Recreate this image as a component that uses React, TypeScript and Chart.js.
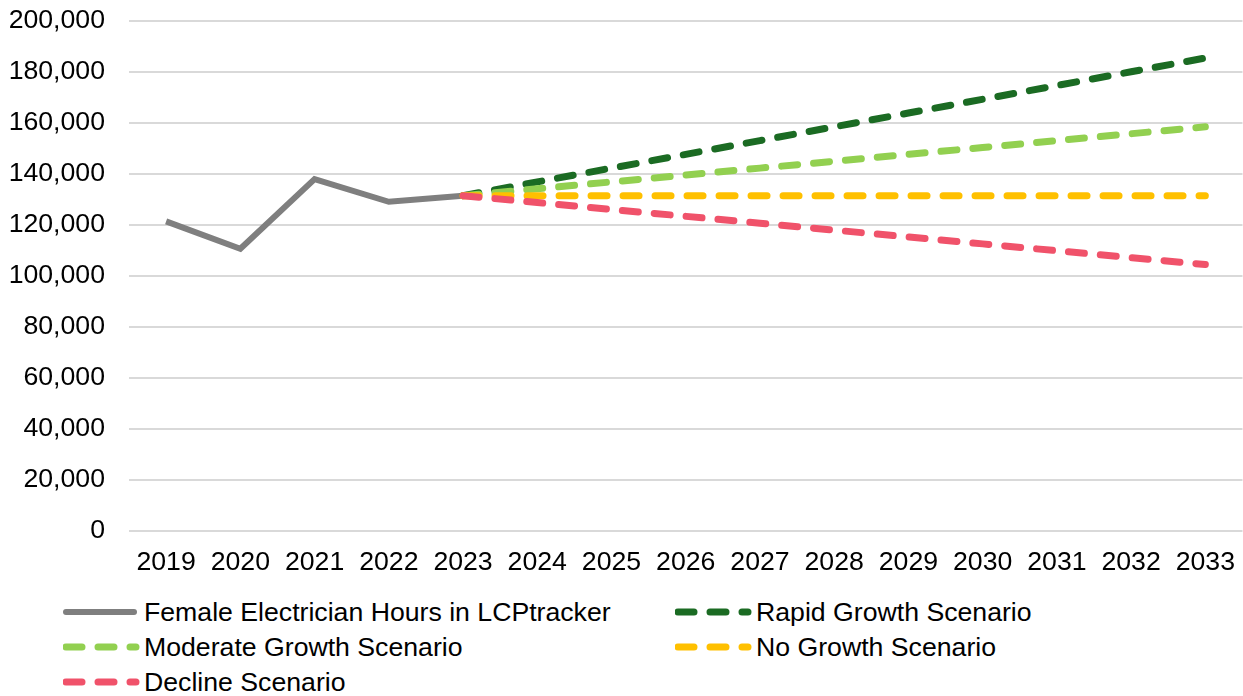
import React, { useEffect, useRef } from "react";
import { Chart, registerables } from "chart.js";

Chart.register(...registerables);

const years = ["2019","2020","2021","2022","2023","2024","2025","2026","2027","2028","2029","2030","2031","2032","2033"];
const actualHours = [121400, 110700, 138000, 129100, 131500, null, null, null, null, null, null, null, null, null, null];
const rapidGrowth = [null, null, null, null, 131500, 136900, 142300, 147700, 153100, 158500, 163900, 169300, 174700, 180100, 185500];
const moderateGrowth = [null, null, null, null, 131500, 134200, 136900, 139600, 142300, 145000, 147700, 150400, 153100, 155800, 158500];
const noGrowth = [null, null, null, null, 131500, 131500, 131500, 131500, 131500, 131500, 131500, 131500, 131500, 131500, 131500];
const decline = [null, null, null, null, 131500, 128800, 126100, 123400, 120700, 118000, 115300, 112600, 109900, 107200, 104500];

const seriesNames = [
  "Female Electrician Hours in LCPtracker",
  "Rapid Growth Scenario",
  "Moderate Growth Scenario",
  "No Growth Scenario",
  "Decline Scenario",
];
const seriesColors = ["#7F7F7F", "#1B6B23", "#92D050", "#FFC000", "#F0526A"];

const FONT = "'Liberation Sans', Arial, sans-serif";
const FONT_SIZE = 26.67;

function LegendItem({ name, color, dashed, left, top }: { name: string; color: string; dashed: boolean; left: number; top: number }) {
  return (
    <div style={{ position: "absolute", left, top, height: 34, display: "flex", alignItems: "center" }}>
      <svg width={78} height={12} style={{ display: "block" }}>
        <line
          x1={3}
          y1={6}
          x2={dashed ? 73 : 71}
          y2={6}
          stroke={color}
          strokeWidth={dashed ? 7 : 6}
          strokeLinecap="round"
          strokeDasharray={dashed ? "16 16" : undefined}
        />
      </svg>
      <span style={{ fontFamily: FONT, fontSize: FONT_SIZE, color: "#000", whiteSpace: "nowrap", marginLeft: 3 }}>{name}</span>
    </div>
  );
}

export default function App() {
  const ref = useRef<HTMLCanvasElement | null>(null);
  useEffect(() => {
    if (!ref.current) return;
    const dashed = (label: string, data: (number | null)[], color: string, order: number) => ({
      label,
      data,
      borderColor: color,
      backgroundColor: color,
      borderWidth: 7,
      borderDash: [16, 16],
      borderCapStyle: "round" as const,
      pointRadius: 0,
      pointHoverRadius: 0,
      tension: 0,
      spanGaps: false,
      order,
    });
    const chart = new Chart(ref.current, {
      type: "line",
      data: {
        labels: years,
        datasets: [
          {
            label: seriesNames[0],
            data: actualHours,
            borderColor: seriesColors[0],
            backgroundColor: seriesColors[0],
            borderWidth: 6,
            borderJoinStyle: "miter",
            pointRadius: 0,
            pointHoverRadius: 0,
            tension: 0,
            order: 5,
          },
          dashed(seriesNames[1], rapidGrowth, seriesColors[1], 4),
          dashed(seriesNames[2], moderateGrowth, seriesColors[2], 3),
          dashed(seriesNames[3], noGrowth, seriesColors[3], 2),
          dashed(seriesNames[4], decline, seriesColors[4], 1),
        ],
      },
      options: {
        animation: false,
        responsive: false,
        maintainAspectRatio: false,
        layout: { padding: { top: 4, right: 0, bottom: 0, left: 0 } },
        plugins: { legend: { display: false }, tooltip: { enabled: false } },
        scales: {
          x: {
            offset: true,
            grid: { display: false },
            border: { display: false },
            ticks: { color: "#000", font: { family: FONT, size: FONT_SIZE }, padding: 8, maxRotation: 0, autoSkip: false },
          },
          y: {
            min: 0,
            max: 200000,
            grid: { color: "#D9D9D9", lineWidth: 2, drawTicks: false },
            border: { display: false },
            ticks: {
              stepSize: 20000,
              color: "#000",
              padding: 24,
              font: { family: FONT, size: FONT_SIZE },
              callback: (v: any) => Number(v).toLocaleString("en-US"),
            },
            afterFit: (scale: any) => {
              scale.width = 129;
            },
          },
        },
      },
    });
    return () => chart.destroy();
  }, []);

  const legendLayout = [
    { i: 0, left: 63, top: 595 },
    { i: 1, left: 675, top: 595 },
    { i: 2, left: 63, top: 630 },
    { i: 3, left: 675, top: 630 },
    { i: 4, left: 63, top: 665 },
  ];

  return (
    <div style={{ position: "absolute", left: 0, top: 0, width: 1243, height: 696, overflow: "hidden", background: "#fff" }}>
      <canvas ref={ref} width={1243} height={606} style={{ position: "absolute", left: 0, top: -19, width: 1243, height: 606 }} />
      {legendLayout.map((l) => (
        <LegendItem key={l.i} name={seriesNames[l.i]} color={seriesColors[l.i]} dashed={l.i !== 0} left={l.left} top={l.top} />
      ))}
    </div>
  );
}
